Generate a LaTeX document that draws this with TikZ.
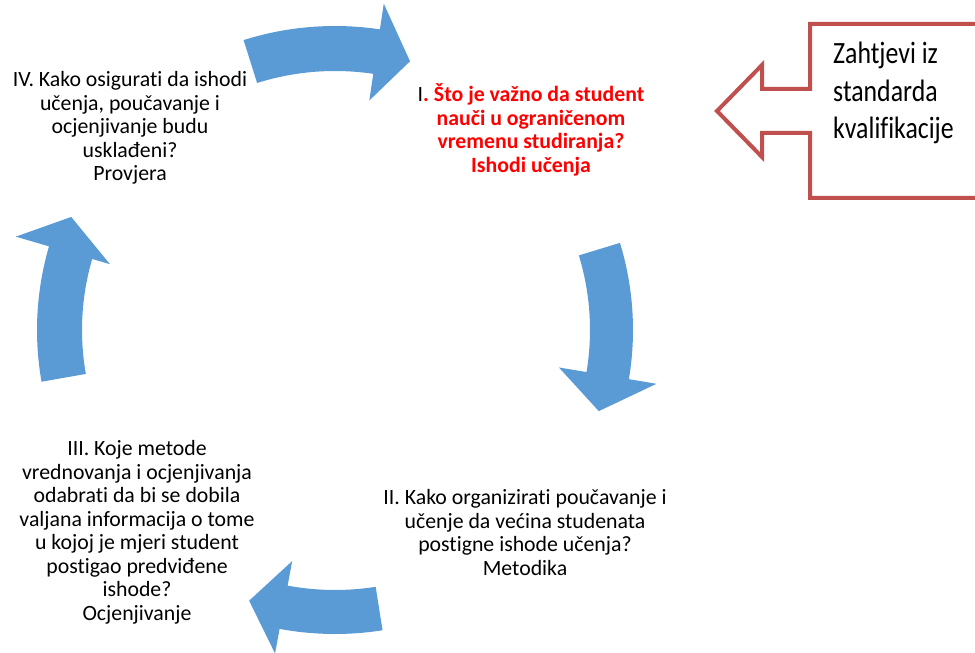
\documentclass[tikz,border=0pt]{standalone}
\usepackage{fontspec}
\setmainfont{Carlito}[Ligatures=NoCommon]
\definecolor{arrowblue}{HTML}{5B9BD5}
\definecolor{calloutred}{HTML}{C0504D}
\definecolor{goalred}{HTML}{FF0000}
\tikzset{
	cyclearrow/.style={fill=arrowblue, draw=none},
	steptext/.style={align=center, inner sep=0pt, font=\fontsize{21.8}{23.5}\selectfont},
	callout/.style={draw=calloutred, line width=4pt, fill=white, line join=miter}
}
% tail, head, tip angle; inner, outer radius; head inner, head outer, tip radius
\newcommand{\blockarc}[8]{%
	\fill[cyclearrow] (#1:#5) arc[start angle=#1, end angle=#2, radius=#5]
		-- (#2:#7) -- (#3:#8) -- (#2:#6) -- (#2:#4)
		arc[start angle=#2, end angle=#1, radius=#4] -- cycle;}
\begin{document}
\begin{tikzpicture}[x=1pt, y=1pt]
		\useasboundingbox (0,0) rectangle (975,653);
		\clip (0,0) rectangle (975,653);
		% cycle arrows
		\begin{scope}[shift={(335,323)}]
			\blockarc{107.5}{81.5}{74.4}{259}{304}{232}{330}{279}
			\blockarc{17}{-9.5}{-17.1}{255}{298}{227}{326}{276}
			\blockarc{-81}{-100.5}{-107.6}{260}{304}{235}{329}{284}
			\blockarc{190}{163.7}{156.8}{253}{298}{234.5}{332.6}{287}
		\end{scope}
		% callout
		\draw[callout] (990,629) -- (810,629) -- (810,564) -- (762,564) -- (762,588)
			-- (717,542) -- (762,496) -- (762,520) -- (810,520) -- (810,455) -- (990,455);
		\node[anchor=west, align=left, inner sep=0pt, yscale=1.2, font=\fontsize{25.8}{31.2}\selectfont] (req) at (833,560)
			{Zahtjevi iz\\standarda\\kvalifikacije};
		% steps
		\node[steptext] (ishodi) at (531,523) {I\textcolor{goalred}{\bfseries. Što je važno da student}\\
			\color{goalred}\bfseries nauči u ograničenom\\
			\color{goalred}\bfseries vremenu studiranja?\\
			\color{goalred}\bfseries Ishodi učenja};
		\node[steptext] (metodika) at (525,120.5) {II. Kako organizirati poučavanje i\\učenje da većina studenata\\postigne ishode učenja?\\Metodika};
		\node[steptext] (ocjena) at (137,120.5) {III. Koje metode\\vrednovanja i ocjenjivanja\\odabrati da bi se dobila\\valjana informacija o tome\\u kojoj je mjeri student\\postigao predviđene\\ishode?\\Ocjenjivanje};
		\node[steptext] (provjera) at (130,525) {IV. Kako osigurati da ishodi\\učenja, poučavanje i\\ocjenjivanje budu\\usklađeni?\\Provjera};
	\end{tikzpicture}
\end{document}
